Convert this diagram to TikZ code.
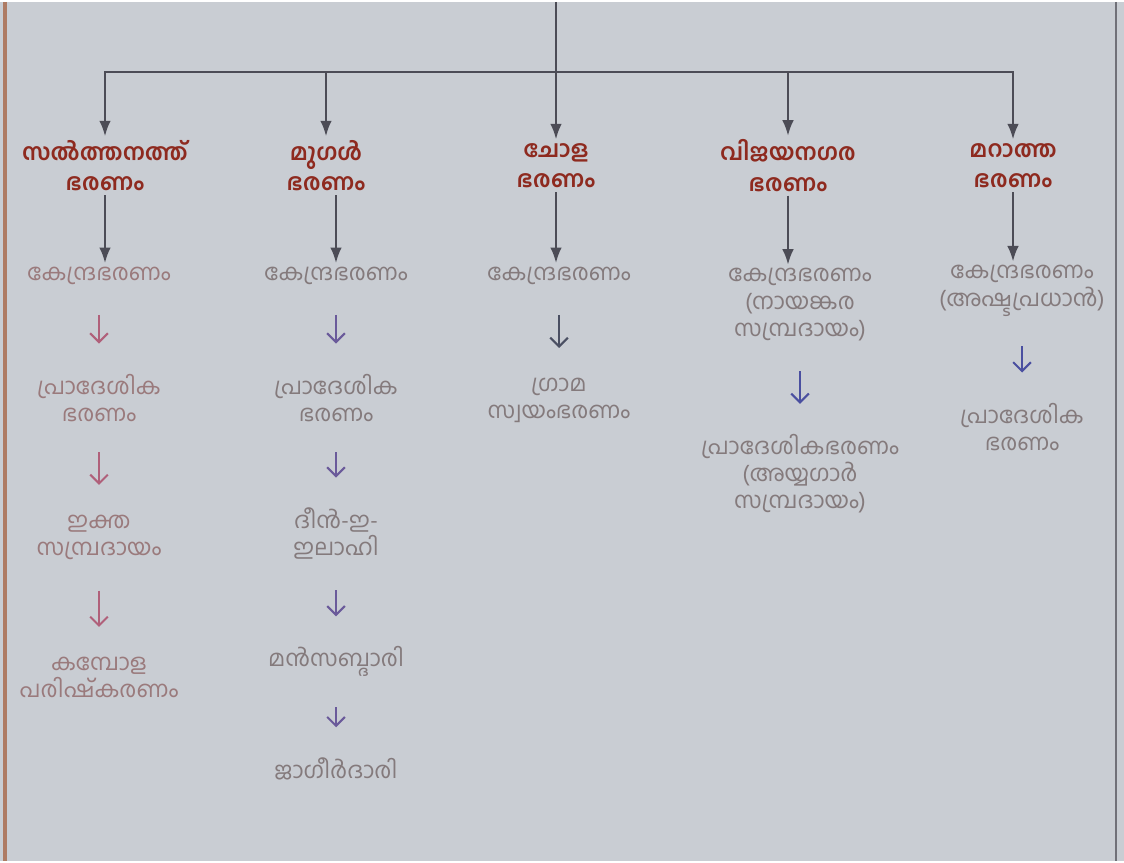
\documentclass[tikz,border=0pt]{standalone}
\usepackage{fontspec}
\newfontfamily\mlfont[Script=Malayalam]{Hind Kochi}
\usetikzlibrary{arrows.meta}

\definecolor{paper}{HTML}{C9CDD3}
\definecolor{headred}{HTML}{8E2A1F}
\definecolor{itemgray}{HTML}{847A7C}
\definecolor{itemrose}{HTML}{9A7A7C}
\definecolor{linkgray}{HTML}{4C4C56}
\definecolor{arrowrose}{HTML}{B0607A}
\definecolor{arrowplum}{HTML}{6A5A9A}
\definecolor{arrowslate}{HTML}{4A4F62}
\definecolor{arrowblue}{HTML}{4A4FA0}

\begin{document}
\begin{tikzpicture}[x=0.02cm,y=-0.02cm,>=Latex,
  head/.style={font=\mlfont\bfseries\fontsize{13.2}{17.5}\selectfont, text=headred, align=center, inner sep=2pt},
  item/.style={font=\mlfont\fontsize{13}{15.5}\selectfont, text=itemgray, align=center, inner sep=2pt},
  link/.style={->, draw=linkgray, line width=1.3pt},
  minor/.style={-{Straight Barb[length=5pt,width=10pt]}, line width=1.2pt, shorten <=5.3mm, shorten >=5.3mm}]
  % Paper
  \fill[paper] (0,0) rectangle (1124,859);
  \draw[draw=itemrose!80!orange, line width=2pt] (5,0) -- (5,859);
  \draw[draw=linkgray!80, line width=1.5pt] (1116,0) -- (1116,859);

  % Rule nodes
  \node[head] (h1) at (105,164) {സൽത്തനത്ത്\\ഭരണം};
  \node[head] (h2) at (326,164) {മുഗൾ\\ഭരണം};
  \node[head] (h3) at (556,164) {ചോള\\ഭരണം};
  \node[head] (h4) at (788,164) {വിജയനഗര\\ഭരണം};
  \node[head] (h5) at (1013,164) {മറാത്ത\\ഭരണം};

  % Sultanate column
  \node[item, text=itemrose] (k1) at (99,274) {കേന്ദ്രഭരണം};
  \node[item, text=itemrose] (p1) at (99,396) {പ്രാദേശിക\\ഭരണം};
  \node[item, text=itemrose] (i1) at (99,536) {ഇക്ത\\സമ്പ്രദായം};
  \node[item, text=itemrose] (m1) at (99,676) {കമ്പോള\\പരിഷ്കരണം};

  % Mughal column
  \node[item] (k2) at (336,274) {കേന്ദ്രഭരണം};
  \node[item] (p2) at (336,396) {പ്രാദേശിക\\ഭരണം};
  \node[item] (d2) at (336,532) {ദീൻ-ഇ-\\ഇലാഹി};
  \node[item] (ms2) at (336,660) {മൻസബ്ദാരി};
  \node[item] (j2) at (336,767) {ജാഗീർദാരി};

  % Chola column
  \node[item] (k3) at (559,274) {കേന്ദ്രഭരണം};
  \node[item] (g3) at (559,399) {ഗ്രാമ\\സ്വയംഭരണം};

  % Vijayanagara column
  \node[item] (k4) at (800,303) {കേന്ദ്രഭരണം\\(നായങ്കര\\സമ്പ്രദായം)};
  \node[item] (p4) at (800,472) {പ്രാദേശികഭരണം\\(അയ്യഗാർ\\സമ്പ്രദായം)};

  % Maratha column
  \node[item] (k5) at (1022,289) {കേന്ദ്രഭരണം\\(അഷ്ടപ്രധാൻ)};
  \node[item] (p5) at (1022,425) {പ്രാദേശിക\\ഭരണം};

  % Edges
  \coordinate (top) at (556,0);
  \coordinate (hub) at (556,70);
  \draw[draw=linkgray, line width=1.3pt] (top) -- (hub);
  \draw[link] (hub) -| (h1);
  \draw[link] (hub) -| (h2);
  \draw[link] (hub) -- (h3);
  \draw[link] (hub) -| (h4);
  \draw[link] (hub) -| (h5);

  \draw[link] (h1) -- (h1 |- k1.north);
  \draw[link] (h2.south -| k2) -- (k2);
  \draw[link] (h3) -- (h3 |- k3.north);
  \draw[link] (h4) -- (h4 |- k4.north);
  \draw[link] (h5) -- (h5 |- k5.north);

  \draw[minor, arrowrose] (k1) -- (p1);
  \draw[minor, arrowrose] (p1) -- (i1);
  \draw[minor, arrowrose] (i1) -- (m1);
  \draw[minor, arrowplum] (k2) -- (p2);
  \draw[minor, arrowplum] (p2) -- (d2);
  \draw[minor, arrowplum] (d2) -- (ms2);
  \draw[minor, arrowplum] (ms2) -- (j2);
  \draw[minor, arrowslate] (k3) -- (g3);
  \draw[minor, arrowblue] (k4) -- (p4);
  \draw[minor, arrowblue] (k5) -- (p5);
\end{tikzpicture}
\end{document}
